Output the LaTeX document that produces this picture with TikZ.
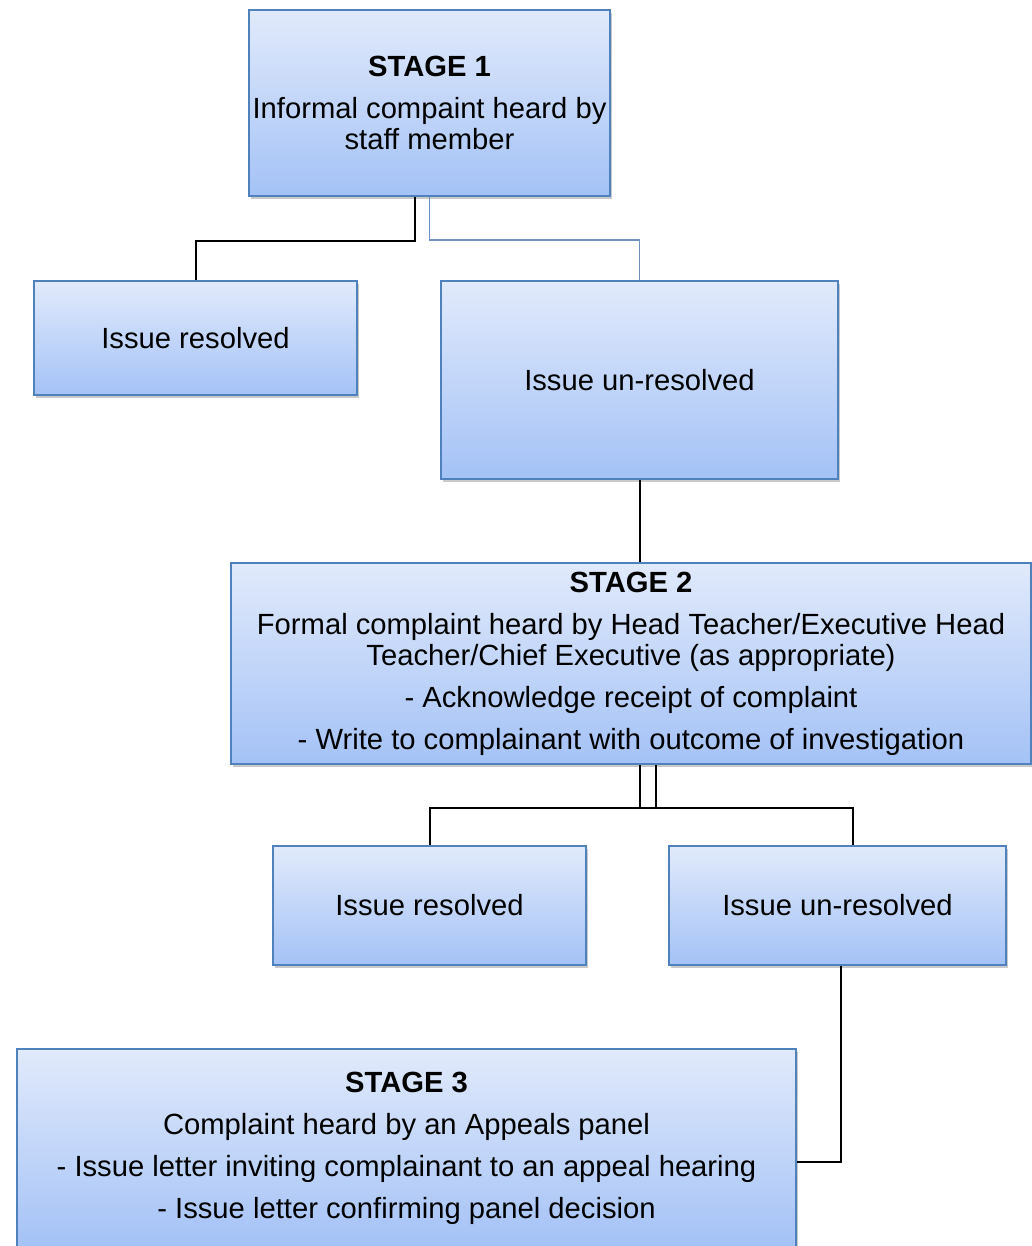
\documentclass[tikz,border=0pt]{standalone}
\usepackage{fontspec}
\setmainfont{Liberation Sans}
\usetikzlibrary{shadows}
\definecolor{boxtop}{HTML}{E1EAFB}
\definecolor{boxbot}{HTML}{A4C2F6}
\definecolor{boxline}{HTML}{4F81BD}
\definecolor{thinblue}{HTML}{6E93C0}
\begin{document}
\begin{tikzpicture}[x=0.5pt,y=-0.5pt,
    box/.style={draw=boxline,line width=1pt,top color=boxtop,bottom color=boxbot,
        drop shadow={shadow xshift=1.2pt,shadow yshift=-1.5pt,opacity=0.3,fill=black!70},
        align=center,inner sep=0pt,font=\fontsize{14.6}{15.5}\selectfont},
    link/.style={draw=black,line width=1pt}]
    \useasboundingbox (0,0) rectangle (1032,1246);
    \node[box,minimum width=180.5pt,minimum height=93pt](S1) at (429.5,103) {\textbf{STAGE 1}\\[5.5pt]Informal compaint heard by\\staff member};
    \node[box,minimum width=161.5pt,minimum height=57pt](R1) at (195.5,338) {Issue resolved};
    \node[box,minimum width=198.5pt,minimum height=99pt](U1) at (639.5,380) {Issue un-resolved};
    \node[box,minimum width=400pt,minimum height=100.5pt](S2) at (631,663.5) {\textbf{STAGE 2}\\[5.5pt]Formal complaint heard by Head Teacher/Executive Head\\Teacher/Chief Executive (as appropriate)\\[5.5pt]- Acknowledge receipt of complaint\\[5.5pt]- Write to complainant with outcome of investigation};
    \node[box,minimum width=156.5pt,minimum height=59.5pt](R2) at (429.5,905.5) {Issue resolved};
    \node[box,minimum width=168.5pt,minimum height=59.5pt](U2) at (837.5,905.5) {Issue un-resolved};
    \node[box,minimum width=389.5pt,minimum height=99pt](S3) at (406.5,1148) {\textbf{STAGE 3}\\[5.5pt]Complaint heard by an Appeals panel\\[5.5pt]- Issue letter inviting complainant to an appeal hearing\\[5.5pt]- Issue letter confirming panel decision};
    \coordinate[shift={(-14.5,0)}] (a) at (S1.south);
    \coordinate (b) at (S1.south);
    \coordinate[shift={(9,0)}] (c) at (S2.south);
    \coordinate[shift={(25,0)}] (d) at (S2.south);
    \coordinate[shift={(15.5,0)}] (e) at (U2.north);
    \coordinate[shift={(3.5,0)}] (f) at (U2.south);
    \coordinate[shift={(0,14)}] (h) at (S3.east);
    \draw[link] (a) -- ++(0,44) -| (R1.north);
    \draw[thinblue,line width=0.6pt] (b) -- ++(0,43) -| (U1.north);
    \draw[link] (U1.south) -- (U1.south |- S2.north);
    \draw[link] (c) -- ++(0,43) coordinate (g);
    \draw[link] (d) -- ++(0,43);
    \draw[link] (R2.north) |- (g) -| (e);
    \draw[link] (f) |- (h);
\end{tikzpicture}
\end{document}
